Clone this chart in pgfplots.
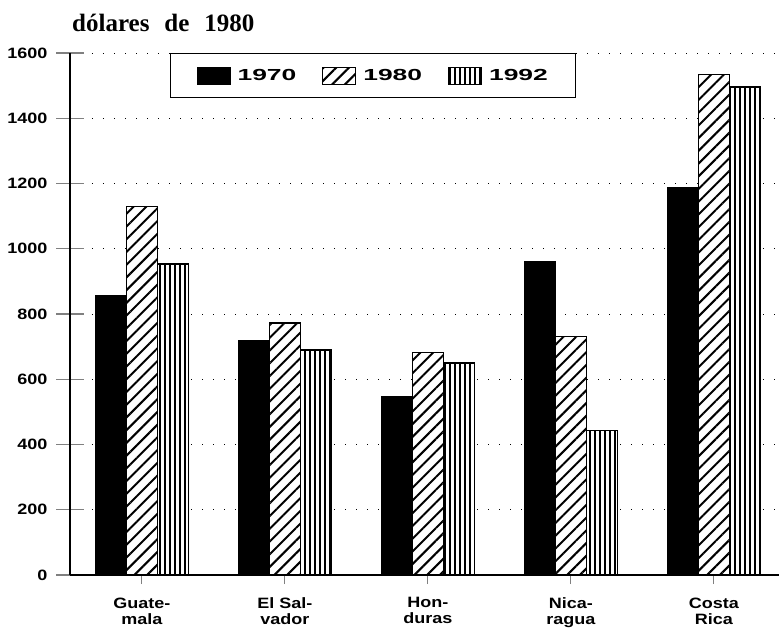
\documentclass[border=0pt]{standalone}
\usepackage{fontspec}
\setmainfont{Liberation Serif}
\setsansfont{Liberation Sans}
\newfontfamily\widefont{Liberation Sans}[FakeStretch=1.65]
\newfontfamily\tickfont{Liberation Sans}[FakeStretch=1.2]
\usepackage{pgfplots}
\usepackage{pgfplotstable}
\pgfplotsset{compat=1.18}
\usetikzlibrary{patterns.meta}

\pgfplotstableread{
x y70 y80 y92
0 858 1129 953
1 720 772 690
2 546 681 650
3 960 730 442
4 1188 1534 1496
}\datatable

\begin{document}
\begin{tikzpicture}
\useasboundingbox (-70pt,-58pt) rectangle (709pt,575pt);
\begin{axis}[
  scale only axis, width=709pt, height=522pt,
  at={(0,0)}, anchor=south west,
  xmin=-0.503, xmax=4.455, ymin=0, ymax=1600,
  ybar=0pt, bar width=31pt,
  axis x line*=bottom, axis y line*=left,
  axis line style={line width=1.3pt},
  xtick={0,1,2,3,4},
  xticklabels={{Guate-\\mala},{El Sal-\\vador},{Hon-\\duras},{Nica-\\ragua},{Costa\\Rica}},
  ytick={0,200,...,1600},
  tick align=center,
  ytick style={/pgfplots/major tick length=27pt, line width=1.3pt},
  xtick style={/pgfplots/major tick length=18pt, line width=1.1pt},
  ymajorgrids,
  grid style={black, line width=0.8pt, dash pattern=on 1pt off 10pt},
  /pgf/number format/assume math mode=true,
  /pgf/number format/1000 sep={},
  yticklabel style={font=\tickfont\bfseries\fontsize{15}{15}\selectfont, xshift=-17pt},
  xticklabel style={font=\tickfont\bfseries\fontsize{15}{16}\selectfont, align=center, yshift=-17pt},
  legend columns=3,
  legend style={at={(0.141,1)}, anchor=north west, draw=black, line width=1.3pt,
    inner xsep=26pt, inner ysep=13pt,
    font=\widefont\bfseries\fontsize{16}{16}\selectfont,
    /tikz/every odd column/.append style={column sep=5pt},
    /tikz/every even column/.append style={column sep=24pt}},
  legend image code/.code={\draw[#1, line width=1pt] (0pt,-8pt) rectangle (33pt,9pt);},
]
\addplot[draw=black, fill=black, line width=1pt] table[x=x, y=y70] {\datatable};
\addplot[draw=black, line width=1.3pt, fill=white,
  postaction={pattern={Lines[angle=45,distance=9pt,line width=2pt]}}] table[x=x, y=y80] {\datatable};
\addplot[draw=black, line width=1.3pt, fill=white,
  postaction={pattern={Lines[angle=90,distance=5pt,line width=2.6pt]}}] table[x=x, y=y92] {\datatable};
\legend{1970,1980,1992}
\end{axis}
\node[anchor=base west, inner sep=0pt, font=\rmfamily\bfseries\fontsize{25}{25}\selectfont] at (2pt,543pt) {dólares\hspace{0.6em}de\hspace{0.6em}1980};
\end{tikzpicture}
\end{document}
